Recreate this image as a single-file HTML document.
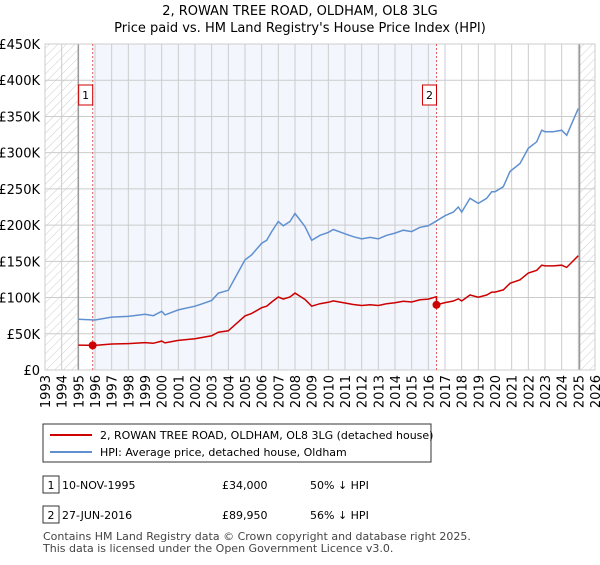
<!DOCTYPE html>
<html><head><meta charset="utf-8"><style>
body{margin:0;background:#fff;font-family:"Liberation Sans","DejaVu Sans",sans-serif;}
svg text{font-family:"DejaVu Sans","Liberation Sans",sans-serif;}
</style></head><body>
<svg id="c" width="600" height="560" xmlns="http://www.w3.org/2000/svg">
<defs><pattern id="h" width="6" height="6" patternUnits="userSpaceOnUse" patternTransform="rotate(45)"><line x1="0" y1="0" x2="0" y2="6" stroke="#ccc" stroke-width="1"/></pattern></defs>
<text x="300" y="15" text-anchor="middle" font-size="13">2, ROWAN TREE ROAD, OLDHAM, OL8 3LG</text>
<text x="300" y="32" text-anchor="middle" font-size="13">Price paid vs. HM Land Registry's House Price Index (HPI)</text>
<g id="plot"></g>
<g>
<rect x="43" y="424" width="388" height="38" fill="#fff" stroke="#333"/>
<line x1="50" y1="435" x2="92" y2="435" stroke="#cc0000" stroke-width="2"/>
<text x="100" y="439" font-size="11">2, ROWAN TREE ROAD, OLDHAM, OL8 3LG (detached house)</text>
<line x1="50" y1="452" x2="92" y2="452" stroke="#6090d0" stroke-width="2"/>
<text x="100" y="456" font-size="11">HPI: Average price, detached house, Oldham</text>
</g>
<g>
<rect x="43" y="476" width="16" height="17" fill="#fff" stroke="#333"/><text x="51" y="489" text-anchor="middle" font-size="11">1</text>
<text x="62" y="489" font-size="11">10-NOV-1995</text><text x="222" y="489" font-size="11">£34,000</text><text x="310" y="489" font-size="11">50% ↓ HPI</text>
<rect x="43" y="506" width="16" height="17" fill="#fff" stroke="#333"/><text x="51" y="519" text-anchor="middle" font-size="11">2</text>
<text x="62" y="519" font-size="11">27-JUN-2016</text><text x="222" y="519" font-size="11">£89,950</text><text x="310" y="519" font-size="11">56% ↓ HPI</text>
</g>
<text x="43" y="540" font-size="11" fill="#444">Contains HM Land Registry data © Crown copyright and database right 2025.</text>
<text x="43" y="552" font-size="11" fill="#444">This data is licensed under the Open Government Licence v3.0.</text>
</svg>
<script>
const hpiYears=[1995,1996,1997,1998,1999,1999.5,2000,2000.2,2001,2002,2002.5,2003,2003.4,2004,2004.4,2005,2005.4,2006,2006.3,2006.6,2007,2007.3,2007.7,2008,2008.3,2008.6,2009,2009.5,2010,2010.3,2011,2011.5,2012,2012.5,2013,2013.5,2014,2014.5,2015,2015.5,2016,2016.5,2017,2017.5,2017.8,2018,2018.5,2019,2019.5,2019.8,2020,2020.5,2020.9,2021.5,2022,2022.5,2022.8,2023,2023.5,2024,2024.3,2024.6,2025];
const hpiValues=[70,69,73,74,77,75,81,76,83,88,92,96,106,110,127,152,159,175,179,191,205,199,205,216,207,198,179,186,190,194,188,184,181,183,181,186,189,193,191,197,199,206,213,218,225,218,237,230,237,246,246,253,274,285,306,315,331,329,329,331,324,340,361];
const saleYears=[1995.86,2016.49];
const salePrices=[34,89.95];
const yTicks=[0,50,100,150,200,250,300,350,400,450];
const yTickLabels=["£0","£50K","£100K","£150K","£200K","£250K","£300K","£350K","£400K","£450K"];
const xTicks=[1993,1994,1995,1996,1997,1998,1999,2000,2001,2002,2003,2004,2005,2006,2007,2008,2009,2010,2011,2012,2013,2014,2015,2016,2017,2018,2019,2020,2021,2022,2023,2024,2025,2026];
const X=y=>45+(y-1993)*550/33, Y=v=>370-v*326/450;
const NS="http://www.w3.org/2000/svg", g=document.getElementById('plot');
function mk(t,a,p){const e=document.createElementNS(NS,t);for(const k in a)e.setAttribute(k,a[k]);(p||g).appendChild(e);return e;}
function hpiAt(t){for(let i=0;i<hpiYears.length-1;i++){if(t<=hpiYears[i+1]){const f=(t-hpiYears[i])/(hpiYears[i+1]-hpiYears[i]);return hpiValues[i]+f*(hpiValues[i+1]-hpiValues[i]);}}return hpiValues[hpiValues.length-1];}
let e;
e=mk('rect',{x:X(saleYears[0]),y:44,width:X(saleYears[1])-X(saleYears[0]),height:326,fill:'#f3f6fd'});


yTicks.forEach((v,i)=>{
 e=mk('line',{x1:45,x2:595,y1:Y(v),y2:Y(v),stroke:'#ccc'});
 
 
 e=mk('text',{x:40,y:Y(v)+5,'text-anchor':'end','font-size':'13'});e.textContent=yTickLabels[i];
 
 
});
xTicks.forEach(t=>{
 e=mk('line',{x1:X(t),x2:X(t),y1:44,y2:370,stroke:'#ccc'});
 
 
 e=mk('text',{x:0,y:0,'font-size':'13','text-anchor':'end',transform:`translate(${X(t)+5},375) rotate(-90)`});e.textContent=t;
 
 
});
e=mk('rect',{x:45,y:44,width:X(1995)-45,height:326,fill:'url(#h)'});


e=mk('rect',{x:X(2025.07),y:44,width:595-X(2025.07),height:326,fill:'url(#h)'});


mk('line',{x1:X(1995),x2:X(1995),y1:44,y2:370,stroke:'#999','stroke-width':1.5});
mk('line',{x1:X(2025.07),x2:X(2025.07),y1:44,y2:370,stroke:'#999','stroke-width':1.5});
mk('rect',{x:45,y:44,width:550,height:326,fill:'none',stroke:'#ccc'});
saleYears.forEach((s,i)=>{
 e=mk('line',{x1:X(s),x2:X(s),y1:44,y2:370,stroke:'#e06060','stroke-dasharray':'2,2'});
 
 
 e=mk('rect',{x:X(s)-14,y:85,width:14,height:20,fill:'#fff',stroke:'#cc0000'});
 
 
 e=mk('text',{x:X(s)-7,y:99,'text-anchor':'middle','font-size':'11'});e.textContent=String(i+1);
});
let pb='';hpiYears.forEach((t,i)=>pb+=(i?'L':'M')+X(t).toFixed(1)+','+Y(hpiValues[i]).toFixed(1));
e=mk('path',{d:pb,fill:'none',stroke:'#6090d0','stroke-width':1.5});


const r1=salePrices[0]/hpiAt(saleYears[0]), r2=salePrices[1]/hpiAt(saleYears[1]);
let pr='';hpiYears.forEach((t,i)=>{const r=t<saleYears[1]?r1:r2;pr+=(i?'L':'M')+X(t).toFixed(1)+','+Y(hpiValues[i]*r).toFixed(1);
 if(i<hpiYears.length-1&&t<saleYears[1]&&hpiYears[i+1]>=saleYears[1]){pr+='L'+X(saleYears[1]).toFixed(1)+','+Y(hpiAt(saleYears[1])*r1).toFixed(1)+'L'+X(saleYears[1]).toFixed(1)+','+Y(salePrices[1]).toFixed(1);}});
e=mk('path',{d:pr,fill:'none',stroke:'#cc0000','stroke-width':1.5});


saleYears.forEach((s,i)=>{
 e=mk('circle',{cx:X(s),cy:Y(salePrices[i]),r:4,fill:'#cc0000'});
 
 
});
</script>
</body></html>
